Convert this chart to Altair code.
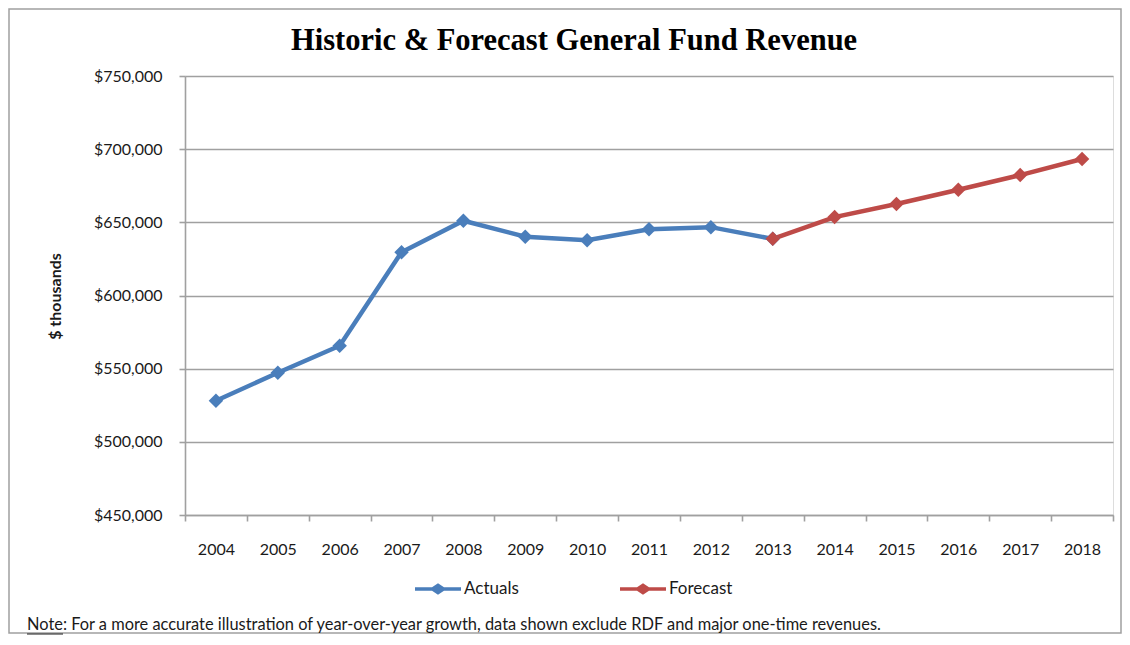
import altair as alt
import pandas as pd

years = [str(y) for y in range(2004, 2019)]
actual_years = years[:10]
actual_values = [528100, 547200, 565700, 629600, 651100, 640200, 637800, 645200, 646700, 638700]
forecast_years = years[9:]
forecast_values = [638700, 653600, 662500, 672300, 682300, 693300]
series_names = ["Actuals", "Forecast"]
series_colors = ["#4A7EBB", "#BE4B48"]
y_ticks = [450000, 500000, 550000, 600000, 650000, 700000, 750000]

title_text = "Historic & Forecast General Fund Revenue"
y_title = "$ thousands"
note_text = "Note: For a more accurate illustration of year-over-year growth, data shown exclude RDF and major one-time revenues."

rows = [{"year": y, "value": v, "series": "Actuals", "order": i} for i, (y, v) in enumerate(zip(actual_years, actual_values))]
rows += [{"year": y, "value": v, "series": "Forecast", "order": 100 + i} for i, (y, v) in enumerate(zip(forecast_years, forecast_values))]
df = pd.DataFrame(rows)
one = pd.DataFrame({"k": [0]})

W, H = 928, 439
GRID = "#A0A0A0"
FONT = "Lato"
TXT = "#1a1a1a"

legend_path = ("M-1,-0.08L-0.26,-0.08L0,-0.25L0.26,-0.08L1,-0.08L1,0.08"
               "L0.26,0.08L0,0.25L-0.26,0.08L-1,0.08Z")

x_enc = alt.X("year:O", sort=years, scale=alt.Scale(domain=years, paddingInner=0, paddingOuter=0),
              axis=alt.Axis(title=None, tickBand="extent", labelAngle=0, grid=False,
                            domainColor=GRID, domainWidth=1.6, tickColor=GRID, tickWidth=1.6,
                            tickSize=6, labelPadding=20, labelFont=FONT, labelFontSize=16,
                            labelColor=TXT))
y_enc = alt.Y("value:Q", scale=alt.Scale(domain=[450000, 750000], nice=False, zero=False),
              axis=alt.Axis(values=y_ticks, format="$,.0f", title=y_title, titleX=-130, titleY=220,
                            titleFont=FONT, titleFontSize=16, titleFontWeight="bold", titleColor=TXT,
                            titleAngle=-90, titleAlign="center", titleBaseline="middle",
                            grid=True, gridColor=GRID, gridWidth=1.6,
                            domainColor=GRID, domainWidth=1.6, tickColor=GRID, tickWidth=1.6,
                            tickSize=6, labelPadding=17, labelFont=FONT, labelFontSize=16,
                            labelColor=TXT))
color_scale = alt.Scale(domain=series_names, range=series_colors)


def series_line(name, color):
    return alt.Chart(df).transform_filter(alt.datum.series == name).mark_line(
        strokeWidth=4.5, color=color).encode(x=x_enc, y=y_enc, order="order:Q")


line_actual = series_line(series_names[0], series_colors[0])
line_forecast = series_line(series_names[1], series_colors[1])

points = alt.Chart(df).mark_point(shape="diamond", filled=True, size=210, opacity=1).encode(
    x=x_enc, y=y_enc,
    color=alt.Color("series:N", scale=color_scale,
                    legend=alt.Legend(title=None, orient="none", legendX=230, legendY=490,
                                      direction="horizontal", symbolType=legend_path,
                                      symbolSize=2116, symbolStrokeWidth=0, labelOffset=3,
                                      columnPadding=101, labelFont=FONT, labelFontSize=17,
                                      labelColor=TXT, padding=0, symbolOpacity=1)),
    order="order:Q",
)

border = alt.Chart(one).mark_rect(fill=None, stroke="#A0A0A0", strokeWidth=1.5).encode(
    x=alt.value(-176), x2=alt.value(936), y=alt.value(-67), y2=alt.value(557)
)

note = alt.Chart(one).mark_text(align="left", baseline="middle", font=FONT, fontSize=16.4,
                                color=TXT).encode(
    x=alt.value(-158), y=alt.value(549), text=alt.value(note_text)
)

underline = alt.Chart(one).mark_rule(color=TXT, strokeWidth=1).encode(
    x=alt.value(-158), x2=alt.value(-122), y=alt.value(558)
)

chart = alt.layer(border, line_actual, line_forecast, points, note, underline).properties(
    width=W, height=H,
    autosize=alt.AutoSizeParams(type="none"),
    padding={"left": 177, "top": 68, "right": 9, "bottom": 120},
    title=alt.TitleParams(title_text, font="Liberation Serif", fontSize=30.5, fontWeight="bold",
                          color="#000000", anchor="start", frame="group", dx=106, offset=0, dy=72,
                          baseline="alphabetic"),
).configure_view(stroke=None).configure(background="white")

chart.save("out.html", embed_options={"renderer": "svg", "actions": False})
